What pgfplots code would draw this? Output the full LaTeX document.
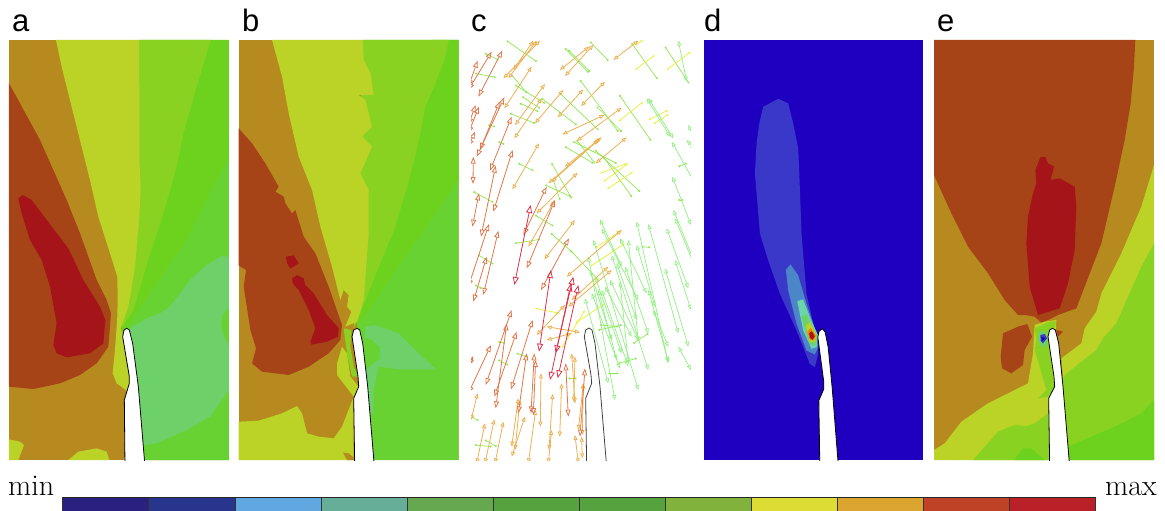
\documentclass[border=0pt]{standalone}
\usepackage{fontspec}
\newfontfamily\hv{Liberation Sans}
\usepackage{pgfplots}
\pgfplotsset{compat=1.18}
\usetikzlibrary{arrows.meta}
\definecolor{brn}{HTML}{B78A20}
\definecolor{yel}{HTML}{BBD326}
\definecolor{gA}{HTML}{8AD222}
\definecolor{gB}{HTML}{6DD21E}
\definecolor{gC}{HTML}{69D233}
\definecolor{lgr}{HTML}{6ED069}
\definecolor{rst}{HTML}{A74417}
\definecolor{rd}{HTML}{A41418}
\definecolor{blu}{HTML}{1F00C0}
\definecolor{cA}{HTML}{2A2080}
\definecolor{cB}{HTML}{28358C}
\definecolor{cC}{HTML}{62A8E0}
\definecolor{cD}{HTML}{66AE98}
\definecolor{cE}{HTML}{66A850}
\definecolor{cF}{HTML}{55A23F}
\definecolor{cG}{HTML}{80B23C}
\definecolor{cH}{HTML}{DCDC35}
\definecolor{cI}{HTML}{DCA530}
\definecolor{cJ}{HTML}{BF4226}
\definecolor{cK}{HTML}{BA2028}
\definecolor{dA}{HTML}{3A38C8}
\definecolor{dB}{HTML}{4A86C8}
\definecolor{dC}{HTML}{6CD4A8}
\definecolor{aR}{HTML}{DE3048}
\definecolor{aO}{HTML}{E0784A}
\definecolor{aA}{HTML}{EDB050}
\definecolor{aL}{HTML}{90F080}
\definecolor{aG}{HTML}{90E850}
\definecolor{aY}{HTML}{E8F030}
\newcommand\AR[5]{\addplot[#1] coordinates {(#2,#3)(#4,#5)};}
\newcommand\PG[2]{\addplot[fill=#1,draw=none] coordinates {#2} -- cycle;}
\newcommand\BAR[3]{\addplot[fill=#1,draw=black!80,line width=.5pt] coordinates {(#2,497.5)(#3,497.5)(#3,512)(#2,512)} -- cycle;}
\pgfplotsset{
 panel/.style={hide axis,scale only axis,y dir=reverse,anchor=south west,width=220pt,height=420pt,clip=true},
 Rr/.style={draw=aR,line width=.8pt,{Triangle[open,length=8pt,width=6pt]}-{Triangle[open,length=8pt,width=6pt]}},
 Oo/.style={draw=aO,line width=.8pt,{Triangle[open,length=7pt,width=5pt]}-{Triangle[open,length=7pt,width=5pt]}},
 Aa/.style={draw=aA,line width=.8pt,{Triangle[open,length=5pt,width=4pt]}-{Triangle[open,length=5pt,width=4pt]}},
 Ll/.style={draw=aL,line width=.7pt,{Triangle[open,length=5pt,width=4pt]}-{Triangle[open,length=5pt,width=4pt]}},
 Gg/.style={draw=aG,line width=.7pt,{Circle[length=2pt]}-{Circle[length=2pt]}},
 Yy/.style={draw=aY,line width=.7pt,{Latex[length=2.5pt,width=2pt]}-{Latex[length=2.5pt,width=2pt]}},
}
\begin{document}
\begin{tikzpicture}[x=1pt,y=1pt]
\path[use as bounding box] (0,0) rectangle (1165pt,511pt);
% ---------- frame: labels and colour bar, in picture pixels
\begin{axis}[hide axis,scale only axis,at={(0pt,0pt)},anchor=south west,width=1165pt,height=511pt,
  xmin=0,xmax=1165,ymin=0,ymax=511,y dir=reverse,clip=false]
\BAR{cA}{62.5}{148.5}\BAR{cB}{148.5}{235}\BAR{cC}{235}{321}\BAR{cD}{321}{407}
\BAR{cE}{407}{493}\BAR{cF}{493}{579}\BAR{cF}{579}{665}\BAR{cG}{665}{751}
\BAR{cH}{751}{837}\BAR{cI}{837}{923}\BAR{cJ}{923}{1009}\BAR{cK}{1009}{1095}
\addplot[draw=black!85,line width=1.3pt] coordinates {(62,497.5)(1095.5,497.5)};
\node[anchor=base west,inner sep=0pt,font=\fontsize{30}{32}\selectfont] at (axis cs:8,495) {min};
\node[anchor=base west,inner sep=0pt,font=\fontsize{30}{32}\selectfont] at (axis cs:1105,495) {max};
\node[anchor=base west,inner sep=0pt,font=\hv\fontsize{31}{33}\selectfont] at (axis cs:12,32) {a};
\node[anchor=base west,inner sep=0pt,font=\hv\fontsize{31}{33}\selectfont] at (axis cs:242,32) {b};
\node[anchor=base west,inner sep=0pt,font=\hv\fontsize{31}{33}\selectfont] at (axis cs:471,32) {c};
\node[anchor=base west,inner sep=0pt,font=\hv\fontsize{31}{33}\selectfont] at (axis cs:704,32) {d};
\node[anchor=base west,inner sep=0pt,font=\hv\fontsize{31}{33}\selectfont] at (axis cs:937,32) {e};
\end{axis}
% ---------- a
\begin{axis}[panel,at={(9pt,51pt)},xmin=27,xmax=687,ymin=120,ymax=1380]
\PG{brn}{(27,120)(687,120)(687,1380)(27,1380)}
\PG{gB}{(365,985)(417,120)(687,120)(687,1380)(400,1380)}
\PG{gC}{(687,470)(640,560)(560,720)(470,850)(380,985)(420,1380)(687,1380)}
\PG{gA}{(417,120)(632,120)(590,260)(550,400)(530,500)(490,640)(450,760)(400,930)(365,985)}
\PG{yel}{(168,120)(417,120)(418,300)(418,480)(422,560)(418,650)(405,800)(385,920)(362,985)(380,1040)(392,1165)(380,1172)(350,1150)(338,1120)(345,1050)(352,950)(353,900)(352,830)(330,760)(295,650)(270,540)(240,420)(210,300)(185,200)}
\PG{lgr}{(687,770)(665,768)(620,795)(570,840)(510,920)(480,940)(440,955)(390,985)(405,1100)(432,1335)(470,1330)(560,1290)(630,1250)(687,1170)(687,1040)(665,990)(665,950)(687,920)}
\PG{yel}{(27,1318)(60,1325)(72,1335)(55,1380)(27,1380)}
\PG{yel}{(205,1380)(235,1355)(290,1345)(320,1355)(328,1380)}
\PG{rst}{(27,250)(60,310)(120,420)(160,510)(200,600)(240,700)(290,840)(320,900)(333,940)(325,1040)(290,1090)(240,1125)(180,1150)(100,1167)(27,1160)}
\PG{rd}{(55,595)(68,585)(95,600)(140,660)(205,745)(250,840)(300,920)(316,960)(310,1030)(270,1060)(200,1072)(170,1060)(160,1035)(170,970)(150,860)(125,780)(90,720)(65,640)}
\addplot[fill=white,draw=black,line width=.8pt] coordinates {(375,1400)(373,1200)(388,1150)(388,1130)(368,1010)(372,990)(380,985)(388,990)(398,1030)(415,1160)(435,1400)} -- cycle;
\end{axis}
% ---------- b
\begin{axis}[panel,at={(238.7pt,51pt)},xmin=20,xmax=680,ymin=120,ymax=1380]
\PG{brn}{(20,120)(680,120)(680,1380)(20,1380)}
\PG{gC}{(375,980)(392,120)(680,120)(680,1380)(400,1380)}
\PG{gB}{(600,120)(680,120)(680,540)(375,980)}
\PG{gA}{(392,120)(650,120)(640,170)(610,250)(580,320)(575,350)(545,490)(490,680)(420,850)(375,965)(365,985)}
\PG{yel}{(120,120)(392,120)(395,180)(415,220)(425,285)(380,285)(400,300)(420,380)(390,410)(420,440)(385,520)(410,570)(410,700)(395,900)(375,965)(340,980)(358,935)(345,920)(350,885)(335,870)(325,900)(300,800)(265,680)(240,570)(200,470)(170,340)(150,230)}
\PG{gA}{(335,985)(358,990)(355,1040)(365,1100)(378,1130)(360,1130)(345,1060)}
\PG{yel}{(330,1040)(315,1090)(315,1125)(365,1190)(380,1160)(355,1130)(345,1060)}
\PG{yel}{(20,1265)(80,1262)(150,1240)(195,1218)(210,1240)(225,1300)(260,1310)(305,1315)(330,1280)(365,1190)(365,1380)(20,1380)}
\PG{brn}{(333,1358)(350,1360)(368,1375)(368,1380)(345,1380)}
\PG{lgr}{(400,980)(430,975)(500,1000)(550,1050)(612,1108)(500,1108)(440,1100)(425,1170)(425,1240)(412,1240)(395,1100)}
\PG{gC}{(392,1010)(420,1020)(443,1040)(443,1075)(405,1105)(398,1100)}
\PG{rst}{(20,385)(60,430)(100,490)(140,560)(130,575)(155,590)(160,610)(180,640)(190,630)(215,710)(250,760)(290,860)(330,975)(325,1020)(290,1060)(230,1100)(170,1125)(90,1115)(60,1090)(72,1045)(55,990)(35,860)(42,810)(20,797)}
\PG{rd}{(162,770)(185,766)(200,790)(175,806)(165,790)}
\PG{rd}{(180,835)(195,825)(215,835)(220,855)(245,880)(285,945)(320,985)(318,1010)(285,1025)(238,1034)(235,1025)(250,985)(230,930)(200,870)(182,850)}
\addplot[fill=white,draw=black,line width=.8pt] coordinates {(368,1400)(365,1195)(380,1160)(378,1130)(360,1010)(365,990)(375,985)(383,990)(392,1030)(407,1160)(427,1400)} -- cycle;
\end{axis}
% ---------- c
\begin{axis}[panel,at={(471pt,51pt)},xmin=18,xmax=678,ymin=120,ymax=1380]
% green dotted
\AR{Gg}{125}{122}{215}{185}\AR{Gg}{60}{160}{100}{180}\AR{Gg}{30}{220}{92}{232}\AR{Gg}{140}{225}{185}{278}
\AR{Gg}{150}{255}{240}{310}\AR{Gg}{172}{290}{225}{325}\AR{Gg}{165}{310}{220}{335}\AR{Gg}{135}{340}{210}{370}
\AR{Gg}{230}{295}{335}{375}\AR{Gg}{300}{145}{370}{218}\AR{Gg}{310}{150}{375}{215}\AR{Gg}{375}{125}{430}{182}
\AR{Gg}{345}{240}{460}{395}\AR{Gg}{285}{280}{400}{390}\AR{Gg}{395}{320}{470}{395}\AR{Gg}{325}{425}{455}{490}
\AR{Gg}{335}{420}{390}{490}\AR{Gg}{300}{440}{385}{490}\AR{Gg}{260}{490}{320}{595}\AR{Gg}{240}{555}{318}{590}
\AR{Gg}{265}{540}{285}{600}\AR{Gg}{500}{130}{577}{237}\AR{Gg}{463}{285}{558}{422}\AR{Gg}{390}{450}{525}{575}
\AR{Gg}{415}{470}{500}{590}\AR{Gg}{160}{490}{205}{512}\AR{Gg}{210}{645}{265}{678}\AR{Gg}{258}{700}{320}{755}
\AR{Gg}{320}{755}{400}{840}\AR{Gg}{600}{140}{672}{250}\AR{Gg}{25}{575}{85}{607}\AR{Gg}{40}{765}{85}{792}
\AR{Gg}{30}{855}{50}{865}\AR{Gg}{100}{1025}{120}{1030}\AR{Gg}{155}{1060}{190}{1072}\AR{Gg}{20}{1250}{40}{1262}
\AR{Gg}{30}{1335}{80}{1340}\AR{Gg}{60}{1320}{95}{1340}\AR{Gg}{100}{425}{118}{433}\AR{Gg}{70}{375}{90}{380}
\AR{Gg}{150}{730}{225}{718}\AR{Gg}{400}{990}{470}{975}\AR{Gg}{405}{975}{460}{980}\AR{Gg}{430}{1120}{460}{1120}
\AR{Gg}{460}{1090}{515}{1075}\AR{Gg}{505}{1030}{550}{1000}\AR{Gg}{530}{740}{555}{742}\AR{Gg}{640}{500}{665}{490}
\AR{Gg}{310}{1135}{335}{1135}\AR{Gg}{640}{600}{655}{600}\AR{Gg}{100}{1080}{130}{1095}
% yellow
\AR{Yy}{535}{120}{510}{135}\AR{Yy}{570}{165}{510}{210}\AR{Yy}{678}{155}{605}{210}\AR{Yy}{535}{305}{460}{365}
\AR{Yy}{610}{330}{550}{360}\AR{Yy}{612}{342}{565}{372}\AR{Yy}{486}{490}{405}{520}\AR{Yy}{490}{490}{415}{545}
\AR{Yy}{505}{515}{425}{568}\AR{Yy}{470}{690}{390}{745}\AR{Yy}{480}{730}{375}{800}\AR{Yy}{360}{930}{290}{1045}
\AR{Yy}{210}{925}{285}{940}\AR{Yy}{420}{910}{330}{970}
% light green
\AR{Ll}{405}{658}{470}{800}\AR{Ll}{410}{685}{520}{900}\AR{Ll}{465}{715}{545}{880}\AR{Ll}{515}{735}{570}{920}
\AR{Ll}{515}{665}{610}{1090}\AR{Ll}{550}{672}{640}{1000}\AR{Ll}{605}{685}{670}{865}\AR{Ll}{630}{655}{690}{800}
\AR{Ll}{622}{530}{678}{675}\AR{Ll}{625}{630}{690}{790}\AR{Ll}{630}{780}{678}{930}\AR{Ll}{600}{805}{670}{1040}
\AR{Ll}{640}{1040}{678}{1110}\AR{Ll}{550}{870}{610}{1085}\AR{Ll}{565}{930}{610}{1040}\AR{Ll}{385}{720}{520}{1170}
\AR{Ll}{370}{770}{450}{1200}\AR{Ll}{360}{895}{430}{1150}\AR{Ll}{380}{880}{465}{1105}\AR{Ll}{410}{870}{490}{1100}
\AR{Ll}{440}{765}{550}{1110}\AR{Ll}{490}{720}{520}{1025}\AR{Ll}{435}{840}{520}{1020}\AR{Ll}{480}{800}{550}{1000}
\AR{Ll}{465}{845}{490}{1090}\AR{Ll}{400}{870}{455}{1080}\AR{Ll}{620}{425}{690}{550}\AR{Ll}{550}{295}{625}{415}
\AR{Ll}{545}{295}{615}{410}\AR{Ll}{640}{122}{665}{245}\AR{Ll}{670}{375}{690}{420}\AR{Ll}{665}{420}{690}{450}
\AR{Ll}{420}{860}{500}{1010}\AR{Ll}{390}{830}{470}{1060}\AR{Ll}{455}{790}{515}{960}\AR{Ll}{375}{810}{440}{1020}
% amber
\AR{Aa}{215}{122}{130}{235}\AR{Aa}{225}{122}{115}{235}\AR{Aa}{205}{122}{145}{210}\AR{Aa}{200}{200}{118}{325}
\AR{Aa}{240}{252}{150}{375}\AR{Aa}{295}{270}{210}{370}\AR{Aa}{230}{295}{148}{415}\AR{Aa}{372}{140}{285}{210}
\AR{Aa}{385}{135}{300}{228}\AR{Aa}{420}{245}{348}{318}\AR{Aa}{355}{268}{278}{352}\AR{Aa}{418}{345}{292}{403}
\AR{Aa}{470}{323}{335}{423}\AR{Aa}{410}{412}{300}{500}\AR{Aa}{485}{412}{392}{490}\AR{Aa}{222}{430}{142}{568}
\AR{Aa}{338}{518}{215}{640}\AR{Aa}{405}{415}{260}{545}\AR{Aa}{400}{420}{250}{550}\AR{Aa}{270}{600}{190}{740}
\AR{Aa}{330}{660}{238}{778}\AR{Aa}{520}{122}{445}{180}\AR{Aa}{440}{810}{310}{920}\AR{Aa}{430}{800}{320}{900}
\AR{Aa}{470}{690}{305}{830}\AR{Aa}{245}{980}{345}{997}\AR{Aa}{320}{1000}{245}{1020}\AR{Aa}{300}{915}{215}{1005}
\AR{Aa}{320}{1060}{330}{1210}\AR{Aa}{330}{1070}{326}{1205}\AR{Aa}{228}{1120}{226}{1280}\AR{Aa}{290}{1150}{284}{1310}
\AR{Aa}{263}{1182}{252}{1350}\AR{Aa}{165}{1200}{150}{1350}\AR{Aa}{180}{1250}{140}{1370}\AR{Aa}{355}{1150}{340}{1290}
\AR{Aa}{355}{1150}{352}{1305}\AR{Aa}{212}{1230}{190}{1390}\AR{Aa}{60}{1270}{35}{1390}\AR{Aa}{88}{1258}{60}{1390}
\AR{Aa}{115}{1265}{90}{1390}\AR{Aa}{38}{1180}{18}{1260}\AR{Aa}{330}{1305}{340}{1390}\AR{Aa}{350}{1310}{352}{1375}
\AR{Aa}{260}{1290}{250}{1390}\AR{Aa}{160}{1195}{140}{1340}
% orange-red
\AR{Oo}{80}{155}{10}{270}\AR{Oo}{112}{152}{40}{290}\AR{Oo}{38}{182}{10}{260}\AR{Oo}{32}{315}{10}{375}
\AR{Oo}{42}{320}{10}{400}\AR{Oo}{30}{395}{10}{440}\AR{Oo}{118}{292}{35}{470}\AR{Oo}{104}{305}{45}{450}
\AR{Oo}{140}{350}{75}{512}\AR{Oo}{143}{450}{85}{635}\AR{Oo}{92}{497}{48}{710}\AR{Oo}{72}{672}{10}{860}
\AR{Oo}{100}{692}{55}{885}\AR{Oo}{65}{770}{25}{905}\AR{Oo}{42}{580}{22}{680}\AR{Oo}{25}{470}{24}{552}
\AR{Oo}{245}{560}{175}{705}\AR{Oo}{270}{600}{185}{805}\AR{Oo}{312}{715}{228}{870}\AR{Oo}{140}{930}{62}{1155}
\AR{Oo}{125}{970}{92}{1225}\AR{Oo}{155}{995}{88}{1190}\AR{Oo}{203}{960}{138}{1168}\AR{Oo}{78}{1035}{10}{1180}
\AR{Oo}{25}{1068}{10}{1095}\AR{Oo}{208}{1060}{198}{1240}\AR{Oo}{212}{1080}{205}{1245}\AR{Oo}{185}{1060}{160}{1240}
\AR{Oo}{302}{1090}{310}{1250}\AR{Oo}{360}{1105}{345}{1310}
% red
\AR{Rr}{197}{615}{148}{855}\AR{Rr}{258}{810}{222}{1055}\AR{Rr}{325}{830}{272}{1060}\AR{Rr}{318}{850}{255}{1140}\AR{Rr}{340}{855}{278}{1135}
\addplot[draw=black!75,line width=.8pt] coordinates {(365,1400)(362,1195)(380,1150)(378,1125)(358,1010)(362,990)(372,984)(381,990)(390,1030)(405,1160)(425,1400)};
\end{axis}
% ---------- d
\begin{axis}[panel,at={(704pt,51pt)},width=219pt,xmin=12,xmax=670,ymin=-60,ymax=1198]
\PG{blu}{(12,-60)(670,-60)(670,1198)(12,1198)}
\PG{dA}{(190,140)(235,116)(265,130)(280,190)(295,265)(298,330)(305,520)(320,700)(345,810)(352,830)(355,880)(345,920)(330,910)(290,810)(240,700)(205,600)(180,520)(170,400)(165,340)(170,250)(178,190)}
\PG{dB}{(258,628)(272,612)(295,645)(320,730)(350,820)(355,860)(345,882)(320,870)(290,790)(265,690)}
\PG{dC}{(292,722)(310,717)(330,770)(355,825)(350,860)(335,865)(310,810)}
\PG{lgr}{(305,770)(320,760)(345,815)(352,830)(345,855)(330,850)}
\PG{yel}{(318,795)(330,785)(350,825)(345,845)(330,845)}
\PG{orange}{(322,815)(332,802)(348,825)(342,840)(330,838)}
\PG{rd}{(328,818)(336,812)(345,828)(338,838)(330,832)}
\addplot[fill=white,draw=black,line width=.8pt] coordinates {(360,1220)(357,1020)(372,985)(372,965)(354,830)(358,812)(368,805)(376,815)(385,860)(397,980)(416,1220)} -- cycle;
\end{axis}
% ---------- e
\begin{axis}[panel,at={(934pt,51pt)},xmin=18,xmax=678,ymin=120,ymax=1380]
\PG{brn}{(18,120)(678,120)(678,1380)(18,1380)}
\PG{rst}{(18,120)(622,120)(618,200)(608,310)(590,420)(560,560)(520,730)(470,860)(445,925)(390,945)(360,960)(340,968)(320,950)(290,945)(270,945)(230,900)(180,820)(120,740)(70,640)(18,525)}
\PG{rd}{(337,472)(352,470)(360,490)(378,500)(368,540)(395,535)(440,560)(445,620)(440,750)(420,850)(395,925)(330,945)(305,860)(295,730)(300,650)(315,580)(325,550)(322,510)}
\PG{rst}{(225,1000)(270,980)(298,972)(312,1010)(290,1050)(285,1095)(250,1120)(222,1105)(218,1070)}
\PG{rst}{(385,990)(405,995)(390,1010)}
\PG{yel}{(678,495)(640,620)(580,760)(520,880)(505,935)(470,985)(460,1030)(400,1075)(405,1135)(678,1380)}
\PG{yel}{(18,1380)(18,1350)(50,1330)(100,1265)(180,1210)(240,1180)(300,1150)(315,1060)(320,975)(350,965)(385,960)(375,1190)(400,1380)}
\PG{gA}{(678,730)(640,800)(600,890)(565,970)(525,1015)(505,1050)(410,1125)(360,1240)(320,1270)(295,1278)(260,1275)(210,1295)(135,1380)(678,1380)}
\PG{gB}{(678,1200)(640,1240)(560,1280)(420,1340)(425,1380)(678,1380)}
\PG{gB}{(258,1380)(285,1345)(310,1345)(350,1380)}
\PG{gA}{(320,985)(365,965)(385,965)(380,980)(365,990)(360,1015)(375,1130)(380,1160)(360,1190)(330,1195)(355,1170)(335,1100)(320,1050)(325,1020)}
\PG{lgr}{(333,995)(350,992)(360,1015)(355,1040)(340,1040)(330,1020)}
\PG{dA}{(337,1005)(350,1002)(357,1015)(345,1030)(338,1022)}
\PG{blu}{(340,1010)(352,1015)(342,1025)}
\addplot[fill=white,draw=black,line width=.8pt] coordinates {(365,1400)(362,1195)(380,1160)(378,1130)(360,1010)(365,990)(373,985)(382,990)(392,1030)(405,1160)(425,1400)} -- cycle;
\end{axis}
\end{tikzpicture}
\end{document}
